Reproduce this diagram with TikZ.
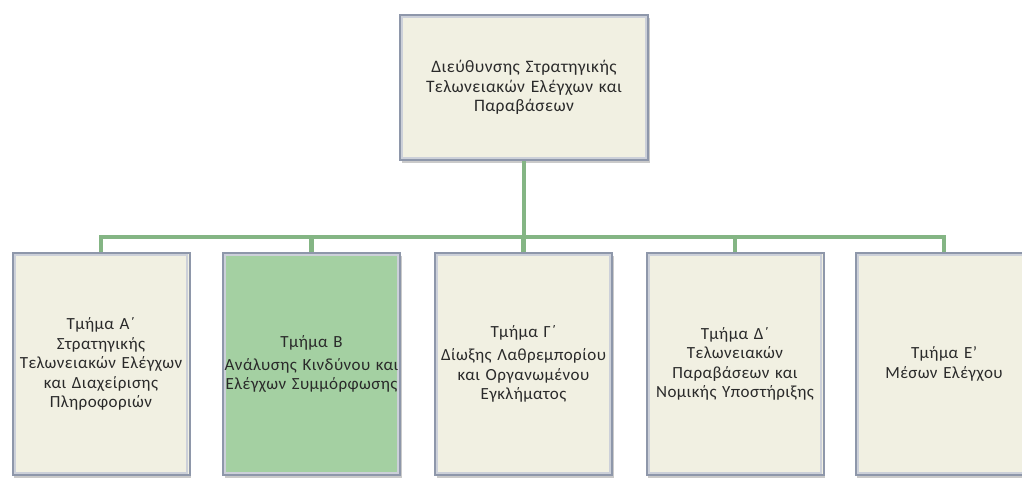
\documentclass[tikz,border=0pt]{standalone}
\usepackage{fontspec}
\setmainfont{Carlito}[LetterSpace=2.5]
\usetikzlibrary{shadows}
\definecolor{cream}{HTML}{F1F0E2}
\definecolor{greenbox}{HTML}{A4D0A2}
\definecolor{connc}{HTML}{84B584}
\definecolor{edgec}{HTML}{8E97AA}
\definecolor{textc}{HTML}{2A2A2A}
\tikzset{
  orgbox/.style={rectangle, fill=cream, draw=edgec, line width=2pt,
    inner sep=0pt, align=center, text=textc,
    drop shadow={shadow xshift=1.5pt, shadow yshift=-3pt, opacity=0.35, fill=black!60},
    path picture={\draw[edgec!45!white, line width=2.2pt]
      ([shift={(2.2pt,-2.2pt)}]path picture bounding box.north west) rectangle
      ([shift={(-2.2pt,2.2pt)}]path picture bounding box.south east);}},
  unitbox/.style={orgbox, minimum width=177pt, minimum height=222pt, text width=177pt,
    font=\fontsize{17}{19.5}\selectfont},
  headbox/.style={orgbox, minimum width=248pt, minimum height=145pt, text width=248pt,
    font=\fontsize{17.5}{19.5}\selectfont},
  conn/.style={draw=connc, line width=4.5pt}
}
\begin{document}
\begin{tikzpicture}[x=1pt,y=-1pt]
\useasboundingbox (0,0) rectangle (1022,477);
\clip (0,0) rectangle (1022,477);
\coordinate (bar) at (0,237);
\node[headbox] (top) at (524,87.5) {Διεύθυνσης Στρατηγικής\\Τελωνειακών Ελέγχων και\\Παραβάσεων};
\node[unitbox] (a) at (101,364) {Τμήμα Α΄\\Στρατηγικής\\Τελωνειακών Ελέγχων\\και Διαχείρισης\\Πληροφοριών};
\node[unitbox, fill=greenbox] (b) at (311.5,364) {Τμήμα Β\\[3pt]Ανάλυσης Κινδύνου και\\Ελέγχων Συμμόρφωσης};
\node[unitbox] (c) at (523.5,364) {Τμήμα Γ΄\\[4pt]Δίωξης Λαθρεμπορίου\\και Οργανωμένου\\Εγκλήματος};
\node[unitbox] (d) at (735,364) {Τμήμα Δ΄\\Τελωνειακών\\Παραβάσεων και\\Νομικής Υποστήριξης};
\node[unitbox] (e) at (944,364) {Τμήμα Ε'\\Μέσων Ελέγχου};
\draw[conn] (top.south) -- (top.south |- bar);
\draw[conn] (a.north) -- (a.north |- bar) -- (e.north |- bar) -- (e.north);
\draw[conn] (b.north) -- (b.north |- bar);
\draw[conn] (c.north) -- (c.north |- bar);
\draw[conn] (d.north) -- (d.north |- bar);
\end{tikzpicture}
\end{document}
